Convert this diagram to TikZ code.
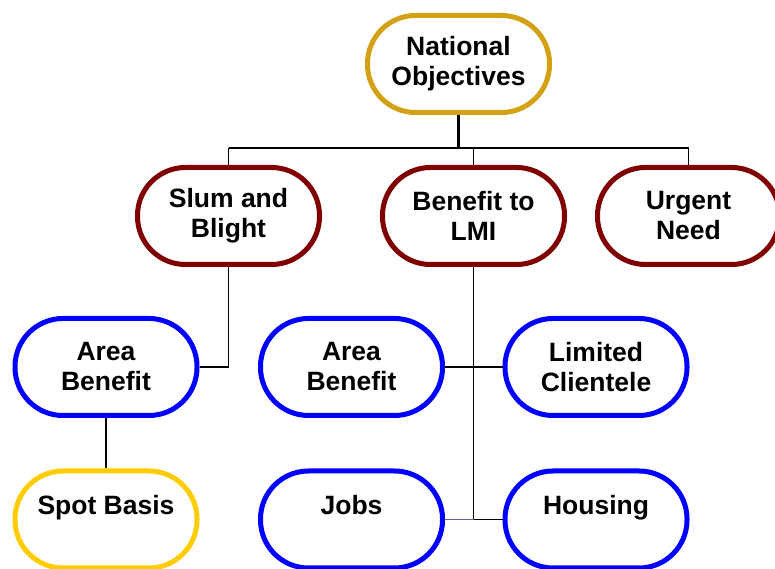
\documentclass[tikz,border=0pt]{standalone}
\usepackage{fontspec}
\setmainfont{Liberation Sans}
\begin{document}
\begin{tikzpicture}[x=1pt,y=1pt,
  pill/.style={draw, line width=5pt, rounded corners=48pt, minimum width=182pt, minimum height=97pt, fill=white, align=center, inner sep=0pt, font=\fontsize{26.5}{30}\selectfont\bfseries},
  conn/.style={draw=black, line width=1.6pt},
  thick conn/.style={draw=black, line width=3pt}]
\definecolor{goldA}{RGB}{212,160,20}
\definecolor{maroonA}{RGB}{128,0,0}
\definecolor{blueA}{RGB}{0,0,255}
\definecolor{yellowA}{RGB}{255,204,0}
\definecolor{grayblue}{RGB}{100,100,150}
\useasboundingbox (0,0) rectangle (775,569);
\fill[white] (0,0) rectangle (775,569);
\coordinate (hl) at (228.5,421);
\coordinate (hr) at (688.5,421);
\coordinate (hm) at (458.5,421);
\coordinate (hj) at (473.5,421);
\node[pill, draw=goldA] (N) at (458.5,505) {National\\Objectives};
\node[pill, draw=maroonA] (SB) at (228.5,353) {Slum and\\Blight};
\node[pill, draw=maroonA] (LMI) at (473.5,353) {Benefit to\\LMI};
\node[pill, draw=maroonA] (UN) at (688.5,353) {Urgent\\Need};
\node[pill, draw=blueA] (AB1) at (106,202) {Area\\Benefit};
\node[pill, draw=blueA] (AB2) at (351.5,202) {Area\\Benefit};
\node[pill, draw=blueA] (LC) at (596,202) {Limited\\Clientele};
\node[pill, draw=yellowA] (SP) at (106,49.5) {Spot Basis\\\mbox{}};
\node[pill, draw=blueA] (JB) at (351.5,49.5) {Jobs\\\mbox{}};
\node[pill, draw=blueA] (HS) at (596,49.5) {Housing\\\mbox{}};
\draw[thick conn] (N.south) -- (hm);
\draw[conn] (hl) -- (hr);
\draw[conn] (hl) -- (SB.north);
\draw[conn] (hr) -- (UN.north);
\draw[conn] (hj) -- (LMI.north);
\draw[conn] (SB.south) |- (AB1.east);
\draw[conn] (AB1.south) -- (SP.north);
\draw[conn] (AB2.east) -- (LC.west);
\draw[conn] (LMI.south) |- (HS.west);
\draw[draw=grayblue, line width=1.6pt] (JB.east) -- (LMI.south |- JB.east);
\end{tikzpicture}
\end{document}
